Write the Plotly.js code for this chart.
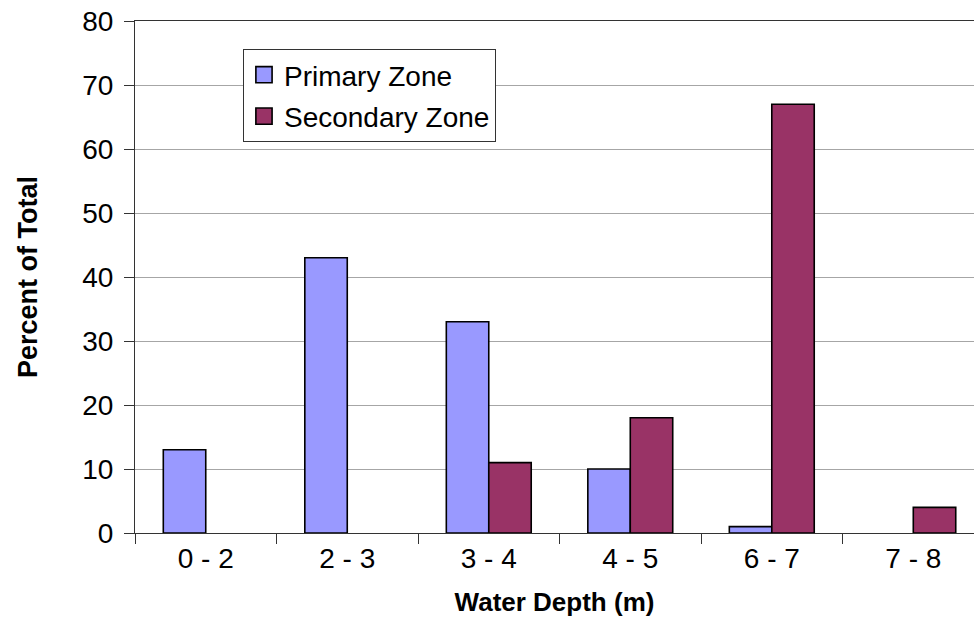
<!DOCTYPE html>
<html>
<head>
<meta charset="utf-8">
<script src="https://cdn.plot.ly/plotly-3.0.1.min.js"></script>
<style>html,body{margin:0;padding:0;background:#fff;}#chart{width:974px;height:642px;}</style>
</head>
<body>
<div id="chart"></div>
<script>
const categories = ["0 - 2", "2 - 3", "3 - 4", "4 - 5", "6 - 7", "7 - 8"];
const primaryZone = [13, 43, 33, 10, 1, 0];
const secondaryZone = [0, 0, 11, 18, 67, 4];
const yTickValues = [0, 10, 20, 30, 40, 50, 60, 70, 80];

const FONT = "Liberation Sans, Arial, sans-serif";
// zero-height bars are not drawn in the reference (no outline at the baseline)
const drawn = vals => vals.map(v => (v === 0 ? null : v));

const traces = [
  {
    type: "bar", name: "Primary Zone", x: categories, y: drawn(primaryZone),
    marker: {color: "#9999FF", line: {color: "#000000", width: 1.6}},
    legendgroup: "a"
  },
  {
    type: "bar", name: "Secondary Zone", x: categories, y: drawn(secondaryZone),
    marker: {color: "#993366", line: {color: "#000000", width: 1.6}},
    legendgroup: "b"
  }
];

const layout = {
  width: 974, height: 642,
  margin: {l: 135, r: 0, t: 21, b: 109},
  paper_bgcolor: "#ffffff", plot_bgcolor: "#ffffff",
  font: {family: FONT, size: 28, color: "#000000"},
  barmode: "group", bargap: 0.4, bargroupgap: 0,
  showlegend: true,
  legend: {
    x: 0.1287, y: 0.9453, xanchor: "left", yanchor: "top",
    bgcolor: "#ffffff", bordercolor: "#333333", borderwidth: 1,
    font: {family: FONT, size: 28, color: "#000000"},
    traceorder: "grouped", tracegroupgap: 2, itemwidth: 30
  },
  xaxis: {
    type: "category", range: [-0.5, 5.429],
    showline: true, linecolor: "#333333", linewidth: 1, mirror: true,
    ticks: "outside", ticklen: 10, tickcolor: "#333333", tickson: "boundaries",
    showgrid: false, zeroline: false,
    tickfont: {family: FONT, size: 28, color: "#000000"},
    title: {text: "<b>Water Depth (m)</b>", font: {family: FONT, size: 26, color: "#000000"}, standoff: 20}
  },
  yaxis: {
    range: [0, 80], tickvals: yTickValues,
    showline: true, linecolor: "#333333", linewidth: 1,
    ticks: "outside", ticklen: 10, tickcolor: "#333333", ticklabelstandoff: 5,
    showgrid: true, gridcolor: "#a6a6a6", gridwidth: 1, zeroline: false,
    tickfont: {family: FONT, size: 28, color: "#000000"},
    title: {text: "<b>Percent of Total</b>", font: {family: FONT, size: 27, color: "#000000"}, standoff: 36}
  }
};

Plotly.newPlot("chart", traces, layout, {displayModeBar: false, staticPlot: true}).then(gd => {
  // larger legend swatches with a black edge, as in the reference
  gd.querySelectorAll(".legend .legendpoints path").forEach(p => {
    const t = p.getAttribute("transform") || "";
    p.setAttribute("transform", (t + " scale(1.35)").trim());
    p.style.stroke = "#000000";
    p.style.strokeWidth = "1.2px";
  });
});
</script>
</body>
</html>
